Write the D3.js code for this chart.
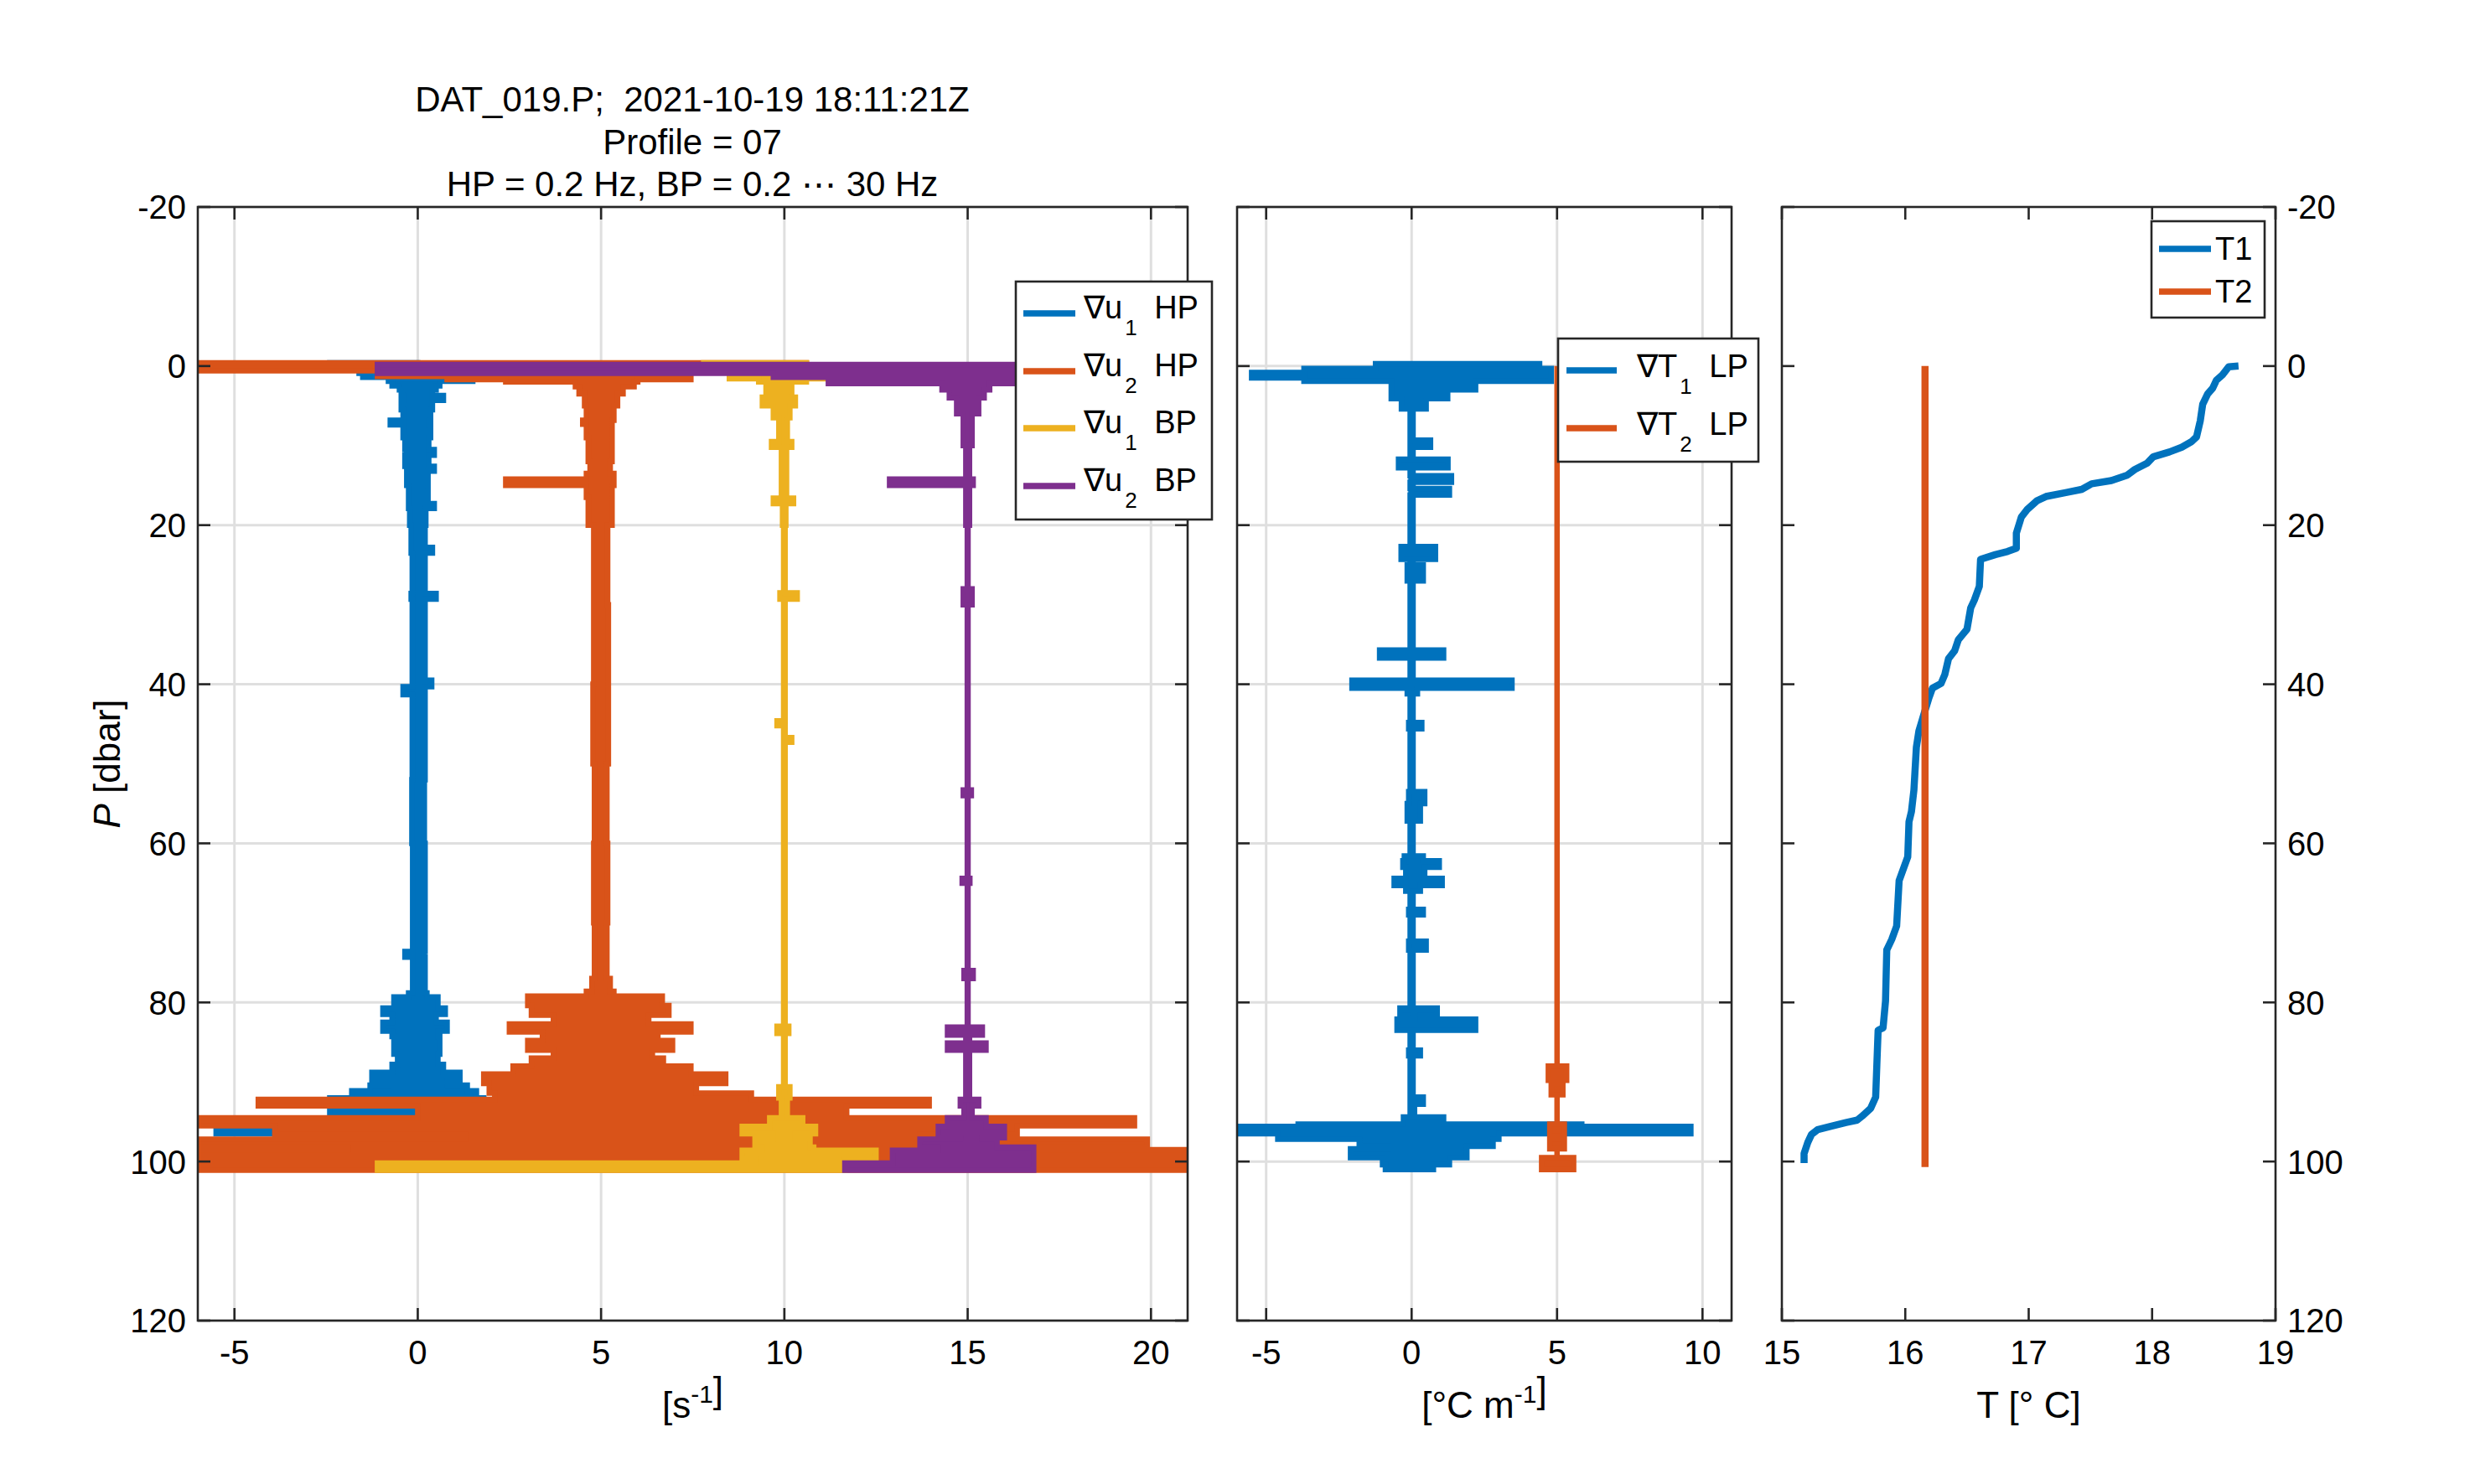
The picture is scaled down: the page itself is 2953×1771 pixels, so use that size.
<!DOCTYPE html>
<html>
<head>
<meta charset="utf-8">
<script src="https://cdn.jsdelivr.net/npm/d3@7"></script>
<style>
  body { margin: 0; background: #fff; }
  text { font-family: "Liberation Sans", Arial, Helvetica, sans-serif; fill: #000; white-space: pre; }
</style>
</head>
<body>
<div id="chart"></div>
<script>
// --------------------------------------------------------------------------------------
// data
// shear profiles: [P, min, max] of the raw signal (offset is added when plotting)
// --------------------------------------------------------------------------------------
var titleLines = ["DAT_019.P;  2021-10-19 18:11:21Z", "Profile = 07", "HP = 0.2 Hz, BP = 0.2 \u22EF 30 Hz"];

var shearOffsets = [0, 5, 10, 15];
var gradOffsets = [0, 5];

var u1_hp = [
  [-0.4, -2.4, 0.0], [0.3, -1.6, 0.2], [0.9, -1.5, 0.3], [1.4, -0.8, 1.5], [1.9, -0.7, 0.6],
  [2.5, -0.5, 0.5], [3.0, -0.45, 0.4], [3.7, -0.4, 0.7], [4.3, -0.45, 0.4], [5.5, -0.4, 0.35],
  [6.8, -0.75, 0.3], [7.4, -0.4, 0.35], [9.0, -0.35, 0.3], [10.5, -0.3, 0.45], [11.2, -0.35, 0.3],
  [12.6, -0.3, 0.45], [13.2, -0.3, 0.28], [15.0, -0.25, 0.28], [17.3, -0.25, 0.45], [17.9, -0.22, 0.22],
  [20.0, -0.18, 0.2], [22.8, -0.18, 0.4], [23.5, -0.15, 0.2], [28.6, -0.18, 0.5], [29.3, -0.15, 0.2],
  [39.5, -0.15, 0.38], [40.3, -0.4, 0.2], [41.3, -0.15, 0.2], [52.0, -0.16, 0.18], [60.0, -0.14, 0.2],
  [73.6, -0.35, 0.16], [74.3, -0.14, 0.2], [78.8, -0.25, 0.25], [79.3, -0.65, 0.55], [80.7, -0.95, 0.75],
  [81.5, -0.7, 0.5], [82.5, -0.95, 0.8], [83.6, -0.7, 0.55], [84.3, -0.65, 0.6], [86.5, -0.55, 0.55],
  [87.8, -0.7, 0.7], [88.8, -1.25, 1.15], [89.9, -0.8, 0.8], [90.4, -1.3, 1.35], [91.1, -1.8, 1.6],
  [92.0, -2.4, 1.8], [93.2, -2.4, 1.2], [94.4, -1.2, 1.2], [95.6, -5.5, 1.0], [96.5, -1.2, 1.4],
  [97.2, -1.0, 1.0], [98.1, -3.7, 0.8], [98.6, -1.0, 1.0], [100.5, -1.0, 1.0], [101.0, -0.5, 0.5]
];

var u2_hp = [
  [-0.4, -11.5, 5.6], [0.1, -11.5, 3.0], [0.6, -6.1, 2.45], [1.3, -4.2, 2.45], [1.7, -2.6, 1.0],
  [2.0, -0.7, 0.9], [2.6, -0.6, 0.6], [3.5, -0.45, 0.45], [5.0, -0.4, 0.35], [6.8, -0.5, 0.3],
  [7.3, -0.4, 0.3], [9.0, -0.35, 0.3], [12.0, -0.3, 0.25], [13.5, -0.4, 0.35], [14.2, -2.6, 0.35],
  [15.0, -0.4, 0.3], [16.5, -0.35, 0.3], [20.0, -0.2, 0.18], [30.0, -0.2, 0.2], [40.0, -0.22, 0.2],
  [50.0, -0.18, 0.16], [60.0, -0.2, 0.18], [70.0, -0.18, 0.16], [77.0, -0.25, 0.25], [78.6, -0.4, 0.35],
  [79.2, -2.0, 1.67], [80.4, -1.9, 1.85], [81.6, -1.3, 1.3], [82.7, -2.5, 2.45], [83.7, -1.6, 1.55],
  [84.8, -2.0, 1.95], [86.0, -1.3, 1.4], [87.0, -1.9, 1.7], [88.0, -2.4, 2.45], [89.0, -3.2, 3.4],
  [90.2, -3.05, 2.6], [91.4, -2.9, 4.1], [92.2, -9.35, 8.95], [93.0, -5.0, 6.7], [94.5, -11.5, 14.55],
  [95.5, -8.9, 11.35], [96.6, -3.7, 8.7], [97.2, -11.5, 14.9], [98.2, -6.9, 8.7], [98.5, -11.5, 18.0],
  [101.1, -11.5, 18.0]
];

var u1_bp = [
  [-0.4, -2.2, 0.6], [0.6, -1.5, 1.2], [1.6, -0.7, 0.6], [2.0, -0.5, 0.2], [3.9, -0.6, 0.3],
  [5.0, -0.3, 0.15], [6.5, -0.15, 0.08], [9.5, -0.35, 0.2], [10.2, -0.08, 0.06], [16.6, -0.3, 0.25],
  [17.3, -0.05, 0.04], [20.0, -0.02, 0.02], [28.5, -0.12, 0.35], [29.3, -0.02, 0.02], [44.6, -0.2, 0.02],
  [45.2, -0.02, 0.02], [46.7, -0.02, 0.2], [47.3, -0.02, 0.02], [83.0, -0.2, 0.12], [83.9, -0.02, 0.02],
  [90.6, -0.15, 0.15], [92.0, -0.08, 0.08], [94.5, -0.4, 0.5], [95.6, -1.15, 0.85], [96.5, -0.3, 0.3],
  [97.2, -0.8, 0.7], [98.2, -0.6, 0.8], [98.6, -1.15, 2.5], [99.7, -0.8, 1.65], [100.2, -11.1, 1.65],
  [101.1, -11.1, 1.65]
];

var u2_bp = [
  [-0.2, -16.1, 3.0], [0.9, -5.3, 3.0], [1.4, -3.8, 3.0], [2.2, -0.7, 0.6], [3.0, -0.5, 0.45],
  [4.0, -0.3, 0.3], [6.0, -0.12, 0.12], [10.0, -0.05, 0.05], [14.2, -2.13, 0.15], [15.0, -0.05, 0.05],
  [20.0, -0.01, 0.01], [28.0, -0.12, 0.12], [30.0, -0.01, 0.01], [53.3, -0.12, 0.1], [54.0, -0.01, 0.01],
  [64.4, -0.15, 0.06], [65.0, -0.01, 0.01], [76.0, -0.1, 0.15], [77.0, -0.01, 0.01], [83.1, -0.55, 0.4],
  [84.1, -0.05, 0.05], [85.1, -0.55, 0.5], [86.0, -0.05, 0.05], [92.2, -0.2, 0.3], [93.0, -0.1, 0.12],
  [94.5, -0.55, 0.5], [95.6, -0.8, 1.0], [97.0, -0.2, 0.4], [97.2, -1.3, 0.8], [98.2, -0.8, 1.8],
  [98.6, -2.05, 1.8], [100.2, -3.35, 1.8], [101.1, -3.35, 1.8]
];

var t1_lp = [
  [-0.3, -1.24, 4.4], [0.3, -3.7, 4.8], [0.8, -5.5, 4.8], [1.5, -3.7, 4.8], [1.9, -0.7, 2.2],
  [3.0, -0.7, 1.24], [4.1, -0.35, 0.5], [5.4, -0.05, 0.05], [9.3, -0.05, 0.65], [10.2, -0.05, 0.05],
  [11.7, -0.45, 1.25], [12.8, -0.05, 0.05], [13.8, -0.02, 1.37], [14.6, -0.05, 0.05], [15.4, -0.02, 1.3],
  [16.2, -0.05, 0.05], [22.7, -0.36, 0.82], [24.3, -0.05, 0.05], [25.0, -0.15, 0.4], [27.0, -0.05, 0.05],
  [35.7, -1.1, 1.1], [36.7, -0.05, 0.05], [39.5, -2.05, 3.45], [40.5, -0.15, 0.2], [41.2, -0.05, 0.05],
  [44.8, -0.1, 0.35], [45.6, -0.05, 0.05], [53.5, -0.1, 0.45], [55.0, -0.15, 0.3], [57.2, -0.05, 0.05],
  [61.6, -0.25, 0.4], [62.2, -0.3, 0.95], [63.0, -0.2, 0.45], [64.4, -0.6, 1.05], [65.3, -0.2, 0.3],
  [66.0, -0.05, 0.05], [68.3, -0.1, 0.4], [69.0, -0.05, 0.05], [72.3, -0.1, 0.5], [73.4, -0.05, 0.05],
  [80.7, -0.4, 0.88], [81.6, -0.15, 0.3], [82.1, -0.5, 2.2], [83.5, -0.05, 0.05], [86.0, -0.1, 0.3],
  [86.7, -0.05, 0.05], [91.9, -0.05, 0.4], [92.8, -0.05, 0.1], [94.4, -0.28, 1.1], [95.3, -3.9, 5.85],
  [95.6, -6.5, 9.6], [96.5, -4.6, 3.0], [97.2, -1.8, 2.8], [98.1, -0.8, 1.9], [98.4, -2.1, 1.9],
  [99.5, -1.0, 1.3], [100.4, -0.9, 0.75], [101.0, -0.9, 0.75]
];

var t2_lp = [
  [0.0, 0, 0], [88.0, -0.3, 0.33], [89.8, 0, 0], [90.2, -0.2, 0.2], [91.6, 0, 0],
  [95.3, -0.25, 0.25], [96.8, 0, 0], [97.2, -0.25, 0.25], [98.4, 0, 0], [99.5, -0.53, 0.57],
  [101.0, -0.53, 0.57]
];

// temperature profiles
var T1_P = [0.0, 0.1, 1.1, 1.8, 2.8, 3.5, 4.8, 6.9, 8.9, 9.5, 10.2, 10.8, 11.4, 12.2, 13.0, 13.7, 14.4, 14.8,
            15.5, 15.9, 16.4, 16.9, 18.0, 19.0, 21.0, 22.9, 23.3, 23.7, 24.3, 27.7, 29.4, 30.4, 33.1, 34.4,
            35.8, 36.8, 38.8, 39.9, 40.5, 41.8, 43.8, 45.9, 47.9, 53.3, 56.0, 57.3, 61.7, 63.4, 64.7, 70.4,
            72.1, 73.4, 79.8, 83.2, 83.5, 91.9, 93.3, 94.3, 94.8, 95.1, 95.6, 96.0, 96.6, 97.6, 99.0, 100.2];
var T1_T = [18.70, 18.62, 18.57, 18.52, 18.49, 18.45, 18.41, 18.39, 18.36, 18.32, 18.24, 18.14, 18.01, 17.96,
            17.86, 17.80, 17.67, 17.51, 17.43, 17.30, 17.14, 17.07, 16.99, 16.94, 16.90, 16.90, 16.83, 16.73,
            16.61, 16.60, 16.56, 16.53, 16.50, 16.43, 16.40, 16.35, 16.32, 16.29, 16.22, 16.19, 16.15, 16.11,
            16.09, 16.07, 16.05, 16.03, 16.02, 15.98, 15.95, 15.93, 15.89, 15.85, 15.84, 15.82, 15.78, 15.76,
            15.72, 15.65, 15.61, 15.52, 15.39, 15.29, 15.24, 15.21, 15.18, 15.18];
var T2_P = [0.0, 100.7];
var T2_T = [16.16, 16.16];

// tick labels
var yTicks = [-20, 0, 20, 40, 60, 80, 100, 120];
var shearTicks = [-5, 0, 5, 10, 15, 20];
var gradTicks = [-5, 0, 5, 10];
var tempTicks = [15, 16, 17, 18, 19];

var colors = ["#0072BD", "#D95319", "#EDB120", "#7E2F8E"];

// --------------------------------------------------------------------------------------
// layout
// --------------------------------------------------------------------------------------
var W = 2953, H = 1771;
var top_y = 247, bottom_y = 1576;
var tick_len = 15;
var axis_col = "#262626";
var tick_font = "40px", label_font = "44px", title_font = "42px", legend_font = "38px";

var svg = d3.select("#chart").append("svg")
    .attr("width", W)
    .attr("height", H);

var y = d3.scaleLinear().domain([-20, 120]).range([top_y, bottom_y]);

var panels = [
  { id: "p1", x0: 236, x1: 1417, dom: [-6, 21], ticks: shearTicks, grid: true, ylab: "left" },
  { id: "p2", x0: 1476, x1: 2066, dom: [-6, 11], ticks: gradTicks, grid: true, ylab: "none" },
  { id: "p3", x0: 2126, x1: 2715, dom: [15, 19], ticks: tempTicks, grid: false, ylab: "right" }
];

panels.forEach(function(p) {
  p.x = d3.scaleLinear().domain(p.dom).range([p.x0, p.x1]);
  svg.append("clipPath").attr("id", "clip_" + p.id)
    .append("rect")
      .attr("x", p.x0).attr("y", top_y)
      .attr("width", p.x1 - p.x0).attr("height", bottom_y - top_y);
});

// --------------------------------------------------------------------------------------
// grid
// --------------------------------------------------------------------------------------
panels.forEach(function(p) {
  if(!p.grid) return;
  var g = svg.append("g").attr("stroke", "#dfdfdf").attr("stroke-width", 3);
  g.selectAll(".gx").data(p.ticks).enter().append("line")
    .attr("x1", function(d) { return p.x(d); }).attr("x2", function(d) { return p.x(d); })
    .attr("y1", top_y).attr("y2", bottom_y);
  g.selectAll(".gy").data(yTicks).enter().append("line")
    .attr("x1", p.x0).attr("x2", p.x1)
    .attr("y1", function(d) { return y(d); }).attr("y2", function(d) { return y(d); });
});

// --------------------------------------------------------------------------------------
// noisy profile drawn as a stepped envelope
// --------------------------------------------------------------------------------------
function draw_profile(p, data, offset, color)
{
  var area = d3.area()
    .curve(d3.curveStepBefore)
    .y(function(d) { return y(d[0]); })
    .x0(function(d) { return p.x(d[1] + offset); })
    .x1(function(d) { return p.x(d[2] + offset); });

  svg.append("g").attr("clip-path", "url(#clip_" + p.id + ")")
    .append("path")
      .datum(data)
      .attr("d", area)
      .attr("fill", color)
      .attr("stroke", color)
      .attr("stroke-width", 6.5)
      .attr("stroke-linejoin", "miter");
}

[u1_hp, u2_hp, u1_bp, u2_bp].forEach(function(s, i) {
  draw_profile(panels[0], s, shearOffsets[i], colors[i]);
});
[t1_lp, t2_lp].forEach(function(s, i) {
  draw_profile(panels[1], s, gradOffsets[i], colors[i]);
});

// temperature lines
var p3 = panels[2];
var tline = d3.line()
  .x(function(d) { return p3.x(d[1]); })
  .y(function(d) { return y(d[0]); });

[[T1_P, T1_T], [T2_P, T2_T]].forEach(function(s, i) {
  svg.append("g").attr("clip-path", "url(#clip_p3)")
    .append("path")
      .datum(d3.zip(s[0], s[1]))
      .attr("d", tline)
      .attr("fill", "none")
      .attr("stroke", colors[i])
      .attr("stroke-width", 8.5)
      .attr("stroke-linejoin", "round");
});

// --------------------------------------------------------------------------------------
// axes: box, inward ticks on all sides, labels
// --------------------------------------------------------------------------------------
panels.forEach(function(p) {
  var g = svg.append("g").attr("stroke", axis_col).attr("stroke-width", 2.6);

  g.append("rect")
    .attr("x", p.x0).attr("y", top_y)
    .attr("width", p.x1 - p.x0).attr("height", bottom_y - top_y)
    .attr("fill", "none");

  p.ticks.forEach(function(t) {
    g.append("line").attr("x1", p.x(t)).attr("x2", p.x(t)).attr("y1", bottom_y).attr("y2", bottom_y - tick_len);
    g.append("line").attr("x1", p.x(t)).attr("x2", p.x(t)).attr("y1", top_y).attr("y2", top_y + tick_len);
  });
  yTicks.forEach(function(t) {
    g.append("line").attr("x1", p.x0).attr("x2", p.x0 + tick_len).attr("y1", y(t)).attr("y2", y(t));
    g.append("line").attr("x1", p.x1).attr("x2", p.x1 - tick_len).attr("y1", y(t)).attr("y2", y(t));
  });

  svg.append("g").selectAll("text").data(p.ticks).enter().append("text")
    .attr("x", function(d) { return p.x(d); })
    .attr("y", 1628)
    .attr("text-anchor", "middle")
    .style("font-size", tick_font)
    .text(function(d) { return d; });

  if(p.ylab == "left" || p.ylab == "right") {
    svg.append("g").selectAll("text").data(yTicks).enter().append("text")
      .attr("x", p.ylab == "left" ? p.x0 - 14 : p.x1 + 14)
      .attr("y", function(d) { return y(d); })
      .attr("dy", "0.36em")
      .attr("text-anchor", p.ylab == "left" ? "end" : "start")
      .style("font-size", tick_font)
      .text(function(d) { return d; });
  }
});

// x axis labels with superscripts
function label_sup(x, yy, parts)
{
  var t = svg.append("text").attr("x", x).attr("y", yy)
    .attr("text-anchor", "middle").style("font-size", label_font);
  parts.forEach(function(s) {
    if(s.sup) {
      t.append("tspan").attr("dy", -18).style("font-size", "30px").text(s.sup);
      t.append("tspan").attr("dy", 18).text("");
    }
    else {
      t.append("tspan").text(s.txt);
    }
  });
}
label_sup((panels[0].x0 + panels[0].x1) / 2, 1692, [{txt: "[s"}, {sup: "-1"}, {txt: "]"}]);
label_sup((panels[1].x0 + panels[1].x1) / 2, 1692, [{txt: "[\u00B0C m"}, {sup: "-1"}, {txt: "]"}]);
label_sup((panels[2].x0 + panels[2].x1) / 2, 1692, [{txt: "T [\u00B0 C]"}]);

// y label
var yl = svg.append("text")
  .attr("transform", "translate(143," + ((top_y + bottom_y) / 2) + ") rotate(-90)")
  .attr("text-anchor", "middle")
  .style("font-size", label_font);
yl.append("tspan").style("font-style", "italic").text("P");
yl.append("tspan").text(" [dbar]");

// title
svg.append("g").selectAll("text").data(titleLines).enter().append("text")
  .attr("x", 826)
  .attr("y", function(d, i) { return 133 + i * 50.5; })
  .attr("text-anchor", "middle")
  .style("font-size", title_font)
  .text(function(d) { return d; });

// --------------------------------------------------------------------------------------
// legends
// --------------------------------------------------------------------------------------
function legend(box, rows, line_x0, line_x1, text_x, baseline_dy)
{
  svg.append("rect")
    .attr("x", box[0]).attr("y", box[1])
    .attr("width", box[2] - box[0]).attr("height", box[3] - box[1])
    .attr("fill", "#fff").attr("stroke", axis_col).attr("stroke-width", 2.6);

  rows.forEach(function(r) {
    svg.append("line")
      .attr("x1", line_x0).attr("x2", line_x1)
      .attr("y1", r.y).attr("y2", r.y)
      .attr("stroke", r.color).attr("stroke-width", 7.5);
    var t = svg.append("text")
      .attr("x", text_x).attr("y", r.y + baseline_dy)
      .style("font-size", legend_font);
    t.append("tspan").text(r.a);
    if(r.sub) {
      t.append("tspan").attr("dx", 3).attr("dy", 20).style("font-size", "26px").text(r.sub);
      t.append("tspan").attr("dx", 10).attr("dy", -20).text(r.b);
    }
  });
}

legend([1212, 336, 1446, 620], [
  { y: 374, color: colors[0], a: "\u2207u", sub: "1", b: " HP" },
  { y: 443, color: colors[1], a: "\u2207u", sub: "2", b: " HP" },
  { y: 511, color: colors[2], a: "\u2207u", sub: "1", b: " BP" },
  { y: 580, color: colors[3], a: "\u2207u", sub: "2", b: " BP" }
], 1221, 1283, 1293, 6);

legend([1859, 404, 2098, 551], [
  { y: 442, color: colors[0], a: "\u2207T", sub: "1", b: " LP" },
  { y: 511, color: colors[1], a: "\u2207T", sub: "2", b: " LP" }
], 1869, 1929, 1953, 8);

legend([2567, 264, 2702, 379], [
  { y: 297, color: colors[0], a: "T1" },
  { y: 348, color: colors[1], a: "T2" }
], 2576, 2638, 2643, 13);
</script>
</body>
</html>
